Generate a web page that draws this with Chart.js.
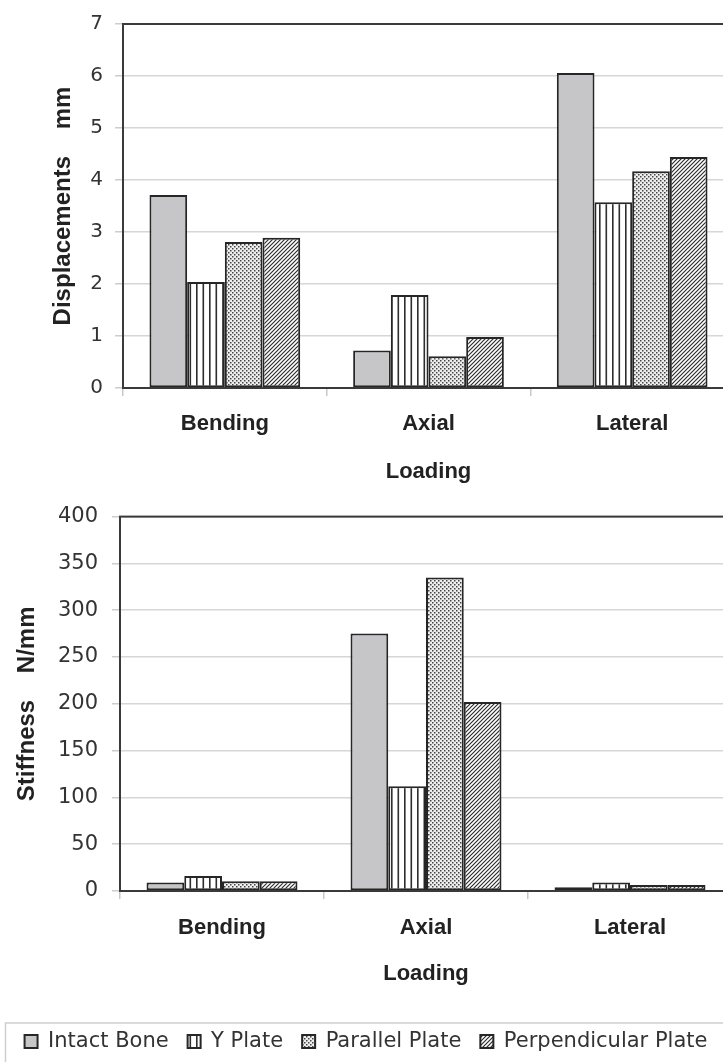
<!DOCTYPE html>
<html>
<head>
<meta charset="utf-8">
<script src="https://cdn.jsdelivr.net/npm/chart.js@4.4.1/dist/chart.umd.min.js"></script>
<style>
  html, body { margin: 0; padding: 0; background: #fff; overflow: hidden; width: 723px; height: 1062px; }
  .panel { position: absolute; left: 0; }
</style>
</head>
<body>
<div class="panel" style="top:0"><canvas id="dispChart" width="740" height="490"></canvas></div>
<div class="panel" style="top:490px"><canvas id="stiffChart" width="740" height="572"></canvas></div>
<script>
// Loading modes and fixation groups
const loadings = ['Bending', 'Axial', 'Lateral'];
const plates = ['Intact Bone', 'Y Plate', 'Parallel Plate', 'Perpendicular Plate'];

// Displacements (mm) per loading mode
const intactDisp   = [3.71, 0.72, 6.06];
const yPlateDisp   = [2.04, 1.79, 3.57];
const parallelDisp = [2.81, 0.61, 4.17];
const perpDisp     = [2.89, 0.98, 4.44];

// Stiffness (N/mm) per loading mode
const intactStiff   = [9, 275, 4];
const yPlateStiff   = [16, 112, 9];
const parallelStiff = [10.5, 335, 6.5];
const perpStiff     = [10.5, 202, 6.5];

// Value axis ticks
const dispTicks  = [0, 1, 2, 3, 4, 5, 6, 7];
const stiffTicks = [0, 50, 100, 150, 200, 250, 300, 350, 400];

const BOLD = "'Liberation Sans', Arial, sans-serif";
const REG  = "'DejaVu Sans', Verdana, sans-serif";
const INK  = '#262626';

function tile(ctx, w, h, paint) {
  const c = document.createElement('canvas');
  c.width = w; c.height = h;
  const g = c.getContext('2d');
  g.fillStyle = '#ffffff';
  g.fillRect(0, 0, w, h);
  paint(g);
  return ctx.createPattern(c, 'repeat');
}

function fills(ctx) {
  const solid = '#c6c6c9';
  const vertical = tile(ctx, 13, 8, g => {
    g.fillStyle = '#2e2e2e';
    g.fillRect(1, 0, 1.6, 8);
    g.fillRect(7.5, 0, 1.6, 8);
  });
  const dotted = tile(ctx, 4, 4, g => {
    g.fillStyle = '#eeeeee';
    g.fillRect(0, 0, 4, 4);
    g.fillStyle = '#444';
    g.fillRect(0, 0, 1.5, 1.5);
    g.fillRect(2, 2, 1.5, 1.5);
  });
  const hatch = tile(ctx, 4, 4, g => {
    g.strokeStyle = '#2e2e2e';
    g.lineWidth = 1.2;
    g.beginPath();
    g.moveTo(-1, 5); g.lineTo(5, -1);
    g.moveTo(-1, 1); g.lineTo(1, -1);
    g.moveTo(3, 5); g.lineTo(5, 3);
    g.stroke();
  });
  return [solid, vertical, dotted, hatch];
}

function datasets(ctx, series) {
  const f = fills(ctx);
  return series.map((data, i) => ({
    label: plates[i],
    data: data,
    backgroundColor: f[i],
    borderColor: INK,
    borderWidth: 2,
    borderSkipped: false,
    categoryPercentage: 0.74,
    barPercentage: 1.0
  }));
}

// Dark frame around the plotting area
const framePlugin = {
  id: 'plotFrame',
  afterDraw(chart) {
    const { ctx, chartArea: a } = chart;
    ctx.save();
    ctx.strokeStyle = '#3a3a3a';
    ctx.lineWidth = 2;
    ctx.strokeRect(a.left, a.top, a.right - a.left, a.bottom - a.top);
    ctx.restore();
  }
};

// Light box around the legend row
const legendBoxPlugin = {
  id: 'legendBox',
  afterDraw(chart) {
    const lg = chart.legend;
    if (!lg) return;
    const ctx = chart.ctx;
    ctx.save();
    ctx.strokeStyle = '#cfcfcf';
    ctx.lineWidth = 1.5;
    ctx.strokeRect(5.5, lg.top + 11, chart.width + 20, chart.height);
    ctx.restore();
  }
};

function makeChart(id, series, ticks, yTitle, cfg) {
  const canvas = document.getElementById(id);
  const ctx = canvas.getContext('2d');
  return new Chart(ctx, {
    type: 'bar',
    data: { labels: loadings, datasets: datasets(ctx, series) },
    plugins: cfg.legend ? [framePlugin, legendBoxPlugin] : [framePlugin],
    options: {
      responsive: false,
      animation: false,
      devicePixelRatio: 1,
      layout: { padding: { top: cfg.padTop, right: cfg.padRight, bottom: 0, left: 0 } },
      plugins: {
        tooltip: { enabled: false },
        legend: {
          display: !!cfg.legend,
          position: 'bottom',
          labels: {
            boxWidth: 13,
            boxHeight: 13,
            padding: 19,
            color: '#333',
            font: { family: REG, size: 21 }
          }
        }
      },
      scales: {
        x: {
          afterFit(scale) { scale.height = cfg.xHeight; },
          grid: {
            offset: true,
            drawOnChartArea: false,
            drawTicks: true,
            tickLength: 8,
            color: '#c8c8c8',
            lineWidth: 1.5
          },
          border: { display: true, color: '#3a3a3a', width: 2 },
          ticks: {
            padding: cfg.xTickPad,
            color: '#222',
            font: { family: BOLD, size: 22, weight: 'bold' }
          },
          title: {
            display: true,
            text: 'Loading',
            color: '#222',
            padding: { top: 0, bottom: cfg.xTitlePad },
            font: { family: BOLD, size: 22, weight: 'bold' }
          }
        },
        y: {
          min: ticks[0],
          max: ticks[ticks.length - 1],
          afterFit(scale) { scale.width = cfg.yWidth; },
          afterBuildTicks(scale) { scale.ticks = ticks.map(v => ({ value: v })); },
          grid: {
            color: '#d6d6d6',
            lineWidth: 1.5,
            drawTicks: true,
            tickLength: 8,
            tickColor: '#cccccc'
          },
          border: { display: true, color: '#3a3a3a', width: 2 },
          ticks: {
            padding: cfg.yTickPad,
            color: '#333',
            font: { family: REG, size: cfg.yFont }
          },
          title: {
            display: true,
            text: yTitle,
            color: '#222',
            padding: { top: cfg.yTitlePad, bottom: 0 },
            font: { family: BOLD, size: 24, weight: 'bold' }
          }
        }
      }
    }
  });
}

makeChart('dispChart',
  [intactDisp, yPlateDisp, parallelDisp, perpDisp],
  dispTicks,
  'Displacements    mm',
  { padTop: 23, padRight: 6, xHeight: 102, xTickPad: 15, xTitlePad: 5,
    yWidth: 123, yTickPad: 12, yTitlePad: 49, yFont: 20, legend: false });

makeChart('stiffChart',
  [intactStiff, yPlateStiff, parallelStiff, perpStiff],
  stiffTicks,
  'Stiffness    N/mm',
  { padTop: 22, padRight: 8, xHeight: 121, xTickPad: 16, xTitlePad: 25,
    yWidth: 120, yTickPad: 14, yTitlePad: 13, yFont: 21, legend: true });
</script>
</body>
</html>
